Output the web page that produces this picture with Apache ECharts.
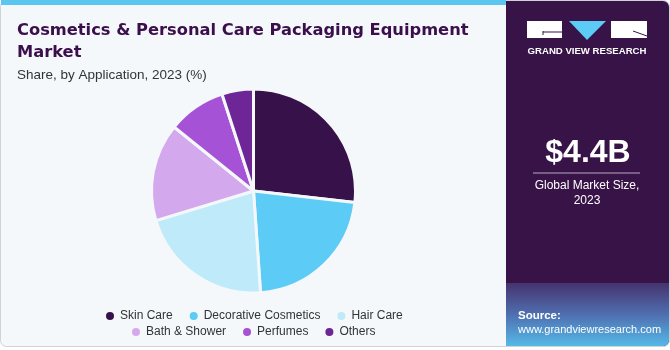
<!DOCTYPE html>
<html><head><meta charset="utf-8">
<script src="https://cdn.jsdelivr.net/npm/echarts@6/dist/echarts.min.js"></script>
<style>html,body{margin:0;padding:0;background:#fff}#c{width:670px;height:350px}</style>
</head><body><div id="c"></div>
<script>
const categories = ["Skin Care","Decorative Cosmetics","Hair Care","Bath & Shower","Perfumes","Others"];
const shares = [26.8, 22.1, 21.4, 15.5, 9.2, 5.0];
const colors = ["#37114a","#5ccbf5","#bfeafa","#d4a8ec","#a552d6","#6e2596"];
const legendRow1 = ["Skin Care","Decorative Cosmetics","Hair Care"];
const legendRow2 = ["Bath & Shower","Perfumes","Others"];
const titleText = "Cosmetics & Personal Care Packaging Equipment\nMarket";
const subtitleText = "Share, by Application, 2023 (%)";
const marketSize = "$4.4B";

const chart = echarts.init(document.getElementById('c'), null, {renderer:'canvas'});
const F = "'Liberation Sans', Arial, sans-serif";
const legendBase = {
  orient:'horizontal', icon:'circle', itemWidth:10, itemHeight:10, itemGap:15,
  textStyle:{fontFamily:F, fontSize:12, color:'#333'}, selectedMode:false
};
chart.setOption({
  backgroundColor:'#ffffff',
  animation:false,
  graphic:[
    {type:'rect', shape:{x:0.5,y:0.5,width:669,height:346,r:6}, style:{fill:'#f4f8fb', stroke:'#cfd3d6', lineWidth:1}, z:-10},
    {type:'rect', shape:{x:1,y:0,width:505,height:5}, style:{fill:'#5bc7f0'}, z:-9},
    {type:'rect', shape:{x:506,y:1,width:163,height:345,r:[0,6,6,0]}, style:{fill:'#381347'}, z:-8},
    {type:'rect', shape:{x:506,y:283,width:163,height:63,r:[0,0,6,0]}, style:{fill:new echarts.graphic.LinearGradient(0,0,0,1,[{offset:0,color:'#45336f'},{offset:0.5,color:'#4f6fb0'},{offset:1,color:'#55b9e8'}])}, z:-7},
    // logo
    {type:'rect', shape:{x:527,y:21,width:35,height:17}, style:{fill:'#ffffff'}},
    {type:'line', shape:{x1:543,y1:32,x2:562,y2:32}, style:{stroke:'#381347', lineWidth:1}},
    {type:'line', shape:{x1:543,y1:31,x2:543,y2:35}, style:{stroke:'#381347', lineWidth:1}},
    {type:'polygon', shape:{points:[[569,21],[606,21],[587,40]]}, style:{fill:'#5ccbf5'}},
    {type:'rect', shape:{x:611,y:21,width:36,height:17}, style:{fill:'#ffffff'}},
    {type:'line', shape:{x1:633,y1:31,x2:647,y2:36}, style:{stroke:'#381347', lineWidth:1}},
    {type:'text', style:{text:'GRAND VIEW RESEARCH', x:587, y:51, align:'center', verticalAlign:'middle', fill:'#ffffff', font:"bold 9.6px "+F}},
    {type:'text', style:{text:marketSize, x:588, y:153, align:'center', verticalAlign:'middle', fill:'#ffffff', font:"bold 32px "+F}},
    {type:'line', shape:{x1:533,y1:173,x2:640,y2:173}, style:{stroke:'#b9a9c4', lineWidth:1}},
    {type:'text', style:{text:'Global Market Size,', x:587, y:186, align:'center', verticalAlign:'middle', fill:'#ffffff', font:"12px "+F}},
    {type:'text', style:{text:'2023', x:587, y:201, align:'center', verticalAlign:'middle', fill:'#ffffff', font:"12px "+F}},
    {type:'text', style:{text:'Source:', x:518, y:316, verticalAlign:'middle', fill:'#ffffff', font:"bold 11.5px "+F}},
    {type:'text', style:{text:'www.grandviewresearch.com', x:518, y:330, verticalAlign:'middle', fill:'#ffffff', font:"11px "+F}}
  ],
  title:[
    {text:titleText, left:12, top:15, textStyle:{fontFamily:"'DejaVu Sans', sans-serif", fontSize:16.3, fontWeight:'bold', color:'#3b0f4b', lineHeight:22}},
    {text:subtitleText, left:12, top:63, textStyle:{fontFamily:F, fontSize:13.5, fontWeight:'normal', color:'#333'}}
  ],
  legend:[
    Object.assign({}, legendBase, {data:legendRow1, left:99, top:305}),
    Object.assign({}, legendBase, {data:legendRow2, left:125, top:321})
  ],
  series:[{
    type:'pie', center:[253.5,191], radius:[0,102], startAngle:90, clockwise:true,
    label:{show:false}, labelLine:{show:false}, silent:true,
    itemStyle:{borderColor:'#f4f8fb', borderWidth:3},
    data: categories.map((n,i)=>({name:n, value:shares[i], itemStyle:{color:colors[i]}}))
  }]
});
</script></body></html>
